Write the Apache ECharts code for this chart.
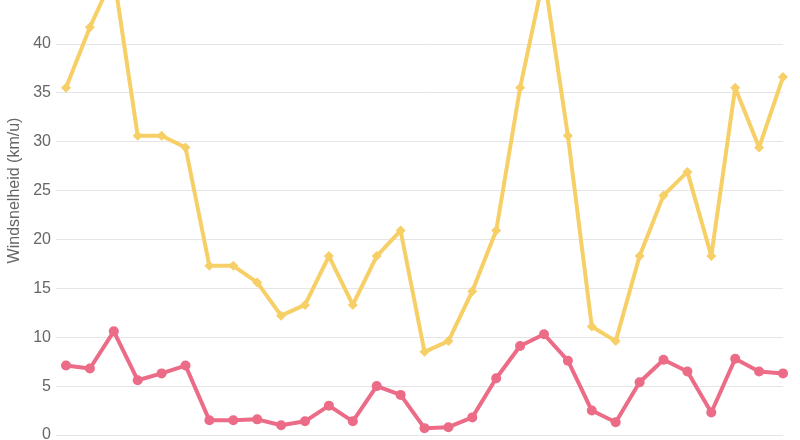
<!DOCTYPE html>
<html><head><meta charset="utf-8">
<script src="https://cdn.jsdelivr.net/npm/echarts@6/dist/echarts.min.js"></script>
<style>html,body{margin:0;padding:0;background:#fff;overflow:hidden;width:800px;height:440px}#c{position:absolute;left:0;top:-54px;width:800px;height:494px}</style>
</head><body><div id="c"></div>
<script>
const categories = ["1","2","3","4","5","6","7","8","9","10","11","12","13","14","15","16","17","18","19","20","21","22","23","24","25","26","27","28","29","30","31"];
const windstoten = [35.5,41.7,47,30.6,30.6,29.4,17.3,17.3,15.6,12.2,13.3,18.3,13.3,18.3,20.9,8.5,9.6,14.7,20.9,35.5,47,30.6,11.1,9.6,18.3,24.5,26.9,18.3,35.5,29.4,36.6];
const windsnelheid = [7.1,6.8,10.6,5.6,6.3,7.1,1.5,1.5,1.6,1.0,1.4,3.0,1.4,5.0,4.1,0.7,0.8,1.8,5.8,9.1,10.3,7.6,2.5,1.3,5.4,7.7,6.5,2.3,7.8,6.5,6.3];
const yTitle = "Windsnelheid (km/u)";

const chart = echarts.init(document.getElementById('c'));
chart.setOption({
  animation: false,
  grid: {left: 66, right: 17, top: 0, bottom: 5, containLabel: false, outerBoundsMode: 'none'},
  xAxis: {
    type: 'category', data: categories, boundaryGap: false,
    axisLine: {show: true, lineStyle: {color: '#e5e5e5'}},
    axisTick: {show: false}, axisLabel: {show: false}, splitLine: {show: false}
  },
  yAxis: {
    type: 'value', min: 0, max: 50, interval: 5,
    name: yTitle, nameLocation: 'middle', nameGap: 43,
    nameTextStyle: {color: '#666', fontSize: 16, fontFamily: 'Arial, Liberation Sans, sans-serif'},
    axisLine: {show: false},
    axisTick: {show: true, length: 10, lineStyle: {color: '#e5e5e5'}},
    axisLabel: {color: '#666', fontSize: 16, margin: 15, fontFamily: 'Arial, Liberation Sans, sans-serif'},
    splitLine: {lineStyle: {color: '#e5e5e5'}}
  },
  series: [
    {type: 'line', data: windstoten, symbol: 'diamond', symbolSize: 10, clip: true,
     lineStyle: {color: '#f6cf66', width: 4}, itemStyle: {color: '#f6cf66'}},
    {type: 'line', data: windsnelheid, symbol: 'circle', symbolSize: 10, clip: true,
     lineStyle: {color: '#ec6b86', width: 4}, itemStyle: {color: '#ec6b86'}}
  ]
});
</script></body></html>
